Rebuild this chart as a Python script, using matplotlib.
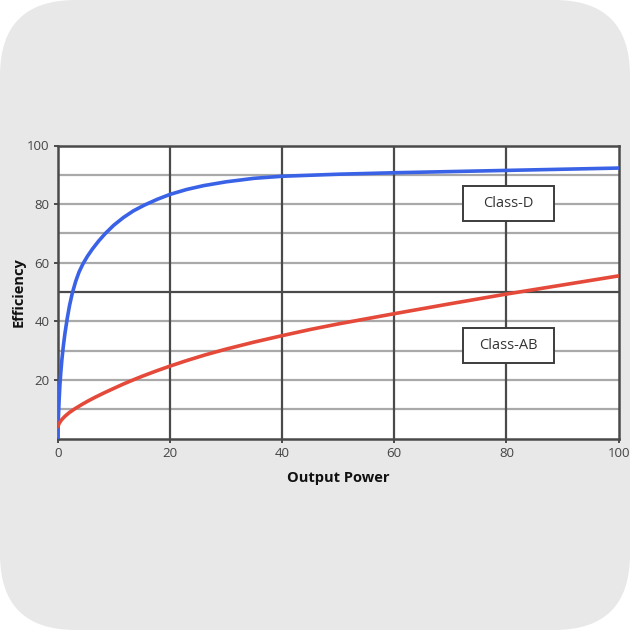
import matplotlib

matplotlib.use("Agg")

import matplotlib.pyplot as plt
from matplotlib.patches import FancyBboxPatch, Rectangle

plt.rcParams["font.family"] = ["Open Sans", "DejaVu Sans"]

# values
class_d_x = [0, 0.1, 0.25, 0.4, 0.55, 0.75, 1.0, 1.3, 1.7, 2.1, 2.6, 3.2, 3.8, 4.5,
             5.3, 6.2, 7.3, 8.5, 10, 11.7, 13.5, 15.5, 17.7, 20, 23, 26, 30, 35, 40,
             50, 60, 70, 80, 90, 100]
class_d_y = [0, 6, 13, 18.5, 22.5, 27, 31.5, 36, 41, 45.3, 49.6, 53.6, 56.8, 59.6,
             62.2, 64.7, 67.4, 70, 72.8, 75.4, 77.7, 79.7, 81.6, 83.3, 85, 86.3, 87.6, 88.8, 89.5,
             90.2, 90.7, 91.1, 91.5, 91.9, 92.3]

class_ab_x = [0, 0.3, 0.7, 1.3, 2.1, 3.1, 4.3, 5.5, 6.7, 8.3, 10, 11.6, 13.2, 15,
              17.5, 20, 23, 26.4, 30, 35, 40, 45, 50, 60, 70, 80, 90, 100]
class_ab_y = [4, 5.3, 6.4, 7.6, 8.9, 10.2, 11.6, 12.9, 14.1, 15.6, 17.1, 18.5, 19.8, 21.2,
              23, 24.7, 26.6, 28.6, 30.5, 32.9, 35.1, 37.2, 39.1, 42.6, 46, 49.3, 52.4, 55.5]

x_ticks = [0, 20, 40, 60, 80, 100]
y_ticks = [20, 40, 60, 80, 100]

labels = ["Class-D", "Class-AB"]
label_boxes = [(72.2, 74.4, 16.2, 11.9), (72.2, 25.7, 16.2, 12.1)]

fig = plt.figure(figsize=(6.3, 6.3), dpi=100, facecolor="white")
fig.patches.append(FancyBboxPatch((0, 0), 1, 1, boxstyle="round,pad=0,rounding_size=0.12",
                                  transform=fig.transFigure, facecolor="#e8e8e8",
                                  edgecolor="none", zorder=-10))

ax = fig.add_axes([57.7 / 630, 1 - 438.5 / 630, 561 / 630, 293 / 630])
ax.set_facecolor("white")

dark = "#4a4a4a"
light = "#a9a9a9"

for y in range(10, 100, 10):
    ax.axhline(y, color=dark if y == 50 else light, lw=1.6, zorder=1)
for x in x_ticks[1:-1]:
    ax.axvline(x, color=dark, lw=1.6, zorder=1)

ax.plot(class_d_x, class_d_y, color="#3a62e6", lw=2.6, zorder=3, solid_capstyle="round")
ax.plot(class_ab_x, class_ab_y, color="#e4493a", lw=2.6, zorder=3, solid_capstyle="round")

for text, (bx, by, bw, bh) in zip(labels, label_boxes):
    ax.add_patch(Rectangle((bx, by), bw, bh, facecolor="white", edgecolor="#3c3c3c",
                           lw=1.4, zorder=4))
    ax.text(bx + bw / 2, by + bh / 2, text, ha="center", va="center",
            fontsize=10.5, color="#333333", zorder=5)

ax.set_xlim(0, 100)
ax.set_ylim(0, 100)
ax.set_xticks(x_ticks)
ax.set_yticks(y_ticks)
ax.tick_params(axis="both", length=3, width=1.4, color=dark, labelsize=9.5,
               labelcolor="#444444", pad=3)
for spine in ax.spines.values():
    spine.set_color(dark)
    spine.set_linewidth(1.8)

ax.set_xlabel("Output Power", fontsize=10.5, fontweight="bold", color="#111111", labelpad=8)
ax.set_ylabel("Efficiency", fontsize=10.5, fontweight="bold", color="#111111", labelpad=1)

fig.savefig("out.png", dpi=100, facecolor="white")
